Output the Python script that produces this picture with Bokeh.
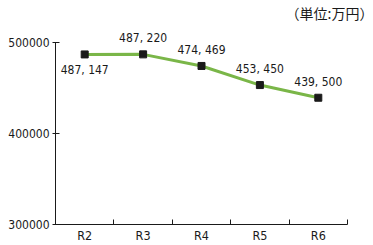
from bokeh.plotting import figure
from bokeh.models import Range1d, FixedTicker, Label, ColumnDataSource
from bokeh.core.properties import value
from bokeh.embed import file_html
from bokeh.resources import INLINE

categories = ["R2", "R3", "R4", "R5", "R6"]
values = [487147, 487220, 474469, 453450, 439500]
y_ticks = [300000, 400000, 500000]
unit_text = "（単位:万円）"

FONT = "DejaVu Sans Condensed"
n = len(categories)
xs = [i + 0.5 for i in range(n)]
labels = [f"{v:,}".replace(",", ", ") for v in values]
# first label below the point, others above
offsets = [16] + [-16] * (n - 1)

src = ColumnDataSource(dict(x=xs, y=values, lab=labels, off=offsets))

# frame spans to the right edge; categories occupy the first 292 of 318 px
p = figure(width=373, height=245, output_backend="svg", toolbar_location=None,
           x_range=Range1d(0, n * 318 / 292), y_range=Range1d(300000, 541000),
           min_border_left=55, min_border_right=0, min_border_top=5, min_border_bottom=18)
p.outline_line_color = None
p.grid.visible = False
p.background_fill_color = "white"

p.line("x", "y", source=src, line_color="#7ab648", line_width=3)
p.scatter("x", "y", source=src, marker="square", size=7, color="#1a1a1a")
p.text("x", "y", text="lab", source=src, y_offset="off", text_align="center",
       text_baseline="middle", text_font=value(FONT), text_font_size="12px",
       text_color="#1a1a1a")

xa = p.xaxis[0]
xa.ticker = FixedTicker(ticks=xs, minor_ticks=[float(i) for i in range(1, n + 1)])
xa.bounds = (0, n)
xa.major_label_overrides = {x: c for x, c in zip(xs, categories)}
xa.major_tick_in = 0
xa.major_tick_out = 0
xa.minor_tick_in = 5
xa.minor_tick_out = 0
xa.major_label_standoff = 3
xa.major_label_text_font = FONT
xa.major_label_text_font_size = "12.5px"
xa.major_label_text_color = "#1a1a1a"
xa.axis_line_color = "#1a1a1a"
xa.minor_tick_line_color = "#1a1a1a"

ya = p.yaxis[0]
ya.ticker = FixedTicker(ticks=y_ticks, minor_ticks=[])
ya.bounds = (y_ticks[0], y_ticks[-1])
ya.major_tick_in = 4
ya.major_tick_out = 3
ya.major_label_standoff = 3
ya.major_label_text_font = FONT
ya.major_label_text_font_size = "12px"
ya.major_label_text_color = "#1a1a1a"
ya.axis_line_color = "#1a1a1a"
ya.major_tick_line_color = "#1a1a1a"
ya.formatter.use_scientific = False

p.add_layout(Label(x=373 - 55, y=245 - 18 - 15, x_units="screen", y_units="screen",
                   text=unit_text, text_align="right", text_baseline="middle",
                   text_font="Noto Sans CJK JP", text_font_size="14px",
                   text_color="#1a1a1a"))

open("out.html", "w").write(file_html(p, INLINE))
